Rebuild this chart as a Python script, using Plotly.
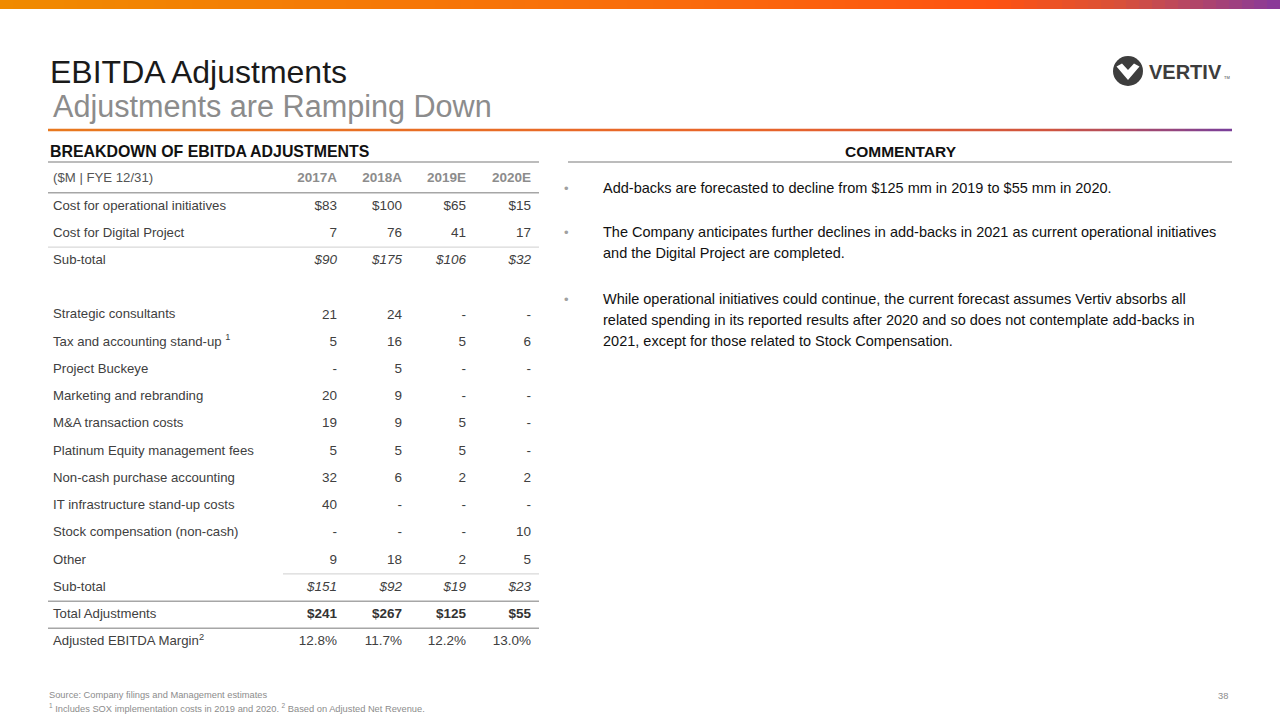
import plotly.graph_objects as go

# ---- data ----
years = ["2017A", "2018A", "2019E", "2020E"]

cost_operational = [83, 100, 65, 15]
cost_digital = [7, 76, 41, 17]
subtotal_projects = [90, 175, 106, 32]

strategic_consultants = [21, 24, None, None]
tax_accounting = [5, 16, 5, 6]
project_buckeye = [None, 5, None, None]
marketing_rebranding = [20, 9, None, None]
ma_transaction = [19, 9, 5, None]
platinum_fees = [5, 5, 5, None]
noncash_purchase = [32, 6, 2, 2]
it_infrastructure = [40, None, None, None]
stock_compensation = [None, None, None, 10]
other = [9, 18, 2, 5]
subtotal_other = [151, 92, 19, 23]

total_adjustments = [241, 267, 125, 55]
adj_ebitda_margin = [12.8, 11.7, 12.2, 13.0]

commentary = [
    ["Add-backs are forecasted to decline from $125 mm in 2019 to $55 mm in 2020."],
    ["The Company anticipates further declines in add-backs in 2021 as current operational initiatives",
     "and the Digital Project are completed."],
    ["While operational initiatives could continue, the current forecast assumes Vertiv absorbs all",
     "related spending in its reported results after 2020 and so does not contemplate add-backs in",
     "2021, except for those related to Stock Compensation."],
]

FONT = "Liberation Sans, Arial, sans-serif"
TXT = "#404040"
GREY = "#8c8c8c"


def fmt(vals, kind="plain"):
    out = []
    for v in vals:
        if v is None:
            out.append("-")
        elif kind == "dollar":
            out.append(f"${v}")
        elif kind == "italic":
            out.append(f"<i>${v}</i>")
        elif kind == "bold":
            out.append(f"<b>${v}</b>")
        elif kind == "pct":
            out.append(f"{v:.1f}%")
        else:
            out.append(str(v))
    return out


# (row index, label, formatted cells) - row 4 is an empty spacer
table = [
    (0, "($M | FYE 12/31)", [f"<b>{y}</b>" for y in years]),
    (1, "Cost for operational initiatives", fmt(cost_operational, "dollar")),
    (2, "Cost for Digital Project", fmt(cost_digital)),
    (3, "Sub-total", fmt(subtotal_projects, "italic")),
    (5, "Strategic consultants", fmt(strategic_consultants)),
    (6, "Tax and accounting stand-up <sup>1</sup>", fmt(tax_accounting)),
    (7, "Project Buckeye", fmt(project_buckeye)),
    (8, "Marketing and rebranding", fmt(marketing_rebranding)),
    (9, "M&A transaction costs", fmt(ma_transaction)),
    (10, "Platinum Equity management fees", fmt(platinum_fees)),
    (11, "Non-cash purchase accounting", fmt(noncash_purchase)),
    (12, "IT infrastructure stand-up costs", fmt(it_infrastructure)),
    (13, "Stock compensation (non-cash)", fmt(stock_compensation)),
    (14, "Other", fmt(other)),
    (15, "Sub-total", fmt(subtotal_other, "italic")),
    (16, "Total Adjustments", fmt(total_adjustments, "bold")),
    (17, "Adjusted EBITDA Margin<sup>2</sup>", fmt(adj_ebitda_margin, "pct")),
]
rows = [t[0] for t in table]

fig = go.Figure()

# gradient bands (top bar and title rule)
band = [list(range(100))]
fig.add_trace(go.Heatmap(z=band, xaxis="x3", yaxis="y3", showscale=False, hoverinfo="skip",
                         colorscale=[[0, "#f08a00"], [0.55, "#fa6a0c"], [0.78, "#fe5312"],
                                     [0.88, "#d8503a"], [1, "#8a3a98"]]))
fig.add_trace(go.Heatmap(z=band, xaxis="x4", yaxis="y4", showscale=False, hoverinfo="skip",
                         colorscale=[[0, "#e8781e"], [0.6, "#e8642a"], [0.85, "#d0543e"],
                                     [1, "#7b3f98"]]))

# table text
col_x = [53, 337, 402, 466, 531]
lab_colors = ["#555555" if r == 0 else TXT for r in rows]
fig.add_trace(go.Scatter(x=[col_x[0]] * len(rows), y=rows, mode="text",
                         text=[t[1] for t in table], textposition="middle right",
                         textfont=dict(family=FONT, size=13.2, color=lab_colors),
                         xaxis="x2", yaxis="y2", hoverinfo="skip"))
val_colors = [GREY if r == 0 else ("#333333" if r == 16 else TXT) for r in rows]
for j in range(4):
    fig.add_trace(go.Scatter(x=[col_x[j + 1]] * len(rows), y=rows, mode="text",
                             text=[t[2][j] for t in table], textposition="middle left",
                             textfont=dict(family=FONT, size=13.5, color=val_colors),
                             xaxis="x2", yaxis="y2", hoverinfo="skip"))

shapes = []
# separators between table rows
for r, x0, col, w in [(0.5, 48, "#a6a6a6", 1.5), (2.5, 48, "#d9d9d9", 1.2),
                      (14.5, 283, "#d9d9d9", 1.2), (15.5, 48, "#a6a6a6", 1.5),
                      (16.5, 48, "#a6a6a6", 1.5)]:
    shapes.append(dict(type="line", xref="x2", yref="y2", x0=x0, x1=539, y0=r, y1=r,
                       line=dict(color=col, width=w)))
# section rules
shapes.append(dict(type="line", xref="x", yref="y", x0=48, x1=539, y0=162, y1=162,
                   line=dict(color="#a6a6a6", width=1.5)))
shapes.append(dict(type="line", xref="x", yref="y", x0=568, x1=1232, y0=162, y1=162,
                   line=dict(color="#a6a6a6", width=1.5)))
# logo
shapes.append(dict(type="circle", xref="x", yref="y", x0=1113, x1=1143, y0=56, y1=86,
                   fillcolor="#3d3d3d", line=dict(width=0)))
shapes.append(dict(type="path", xref="x", yref="y",
                   path="M 1116.5,66.5 L 1128,80 L 1139.5,66.5 L 1134,63.5 L 1128,70 L 1122,63.5 Z",
                   fillcolor="white", line=dict(width=0)))

ann = []
ann.append(dict(x=48, y=72, text="EBITDA Adjustments", xanchor="left", yanchor="middle",
                font=dict(family=FONT, size=32, color="#1a1a1a")))
ann.append(dict(x=51, y=106, text="Adjustments are Ramping Down", xanchor="left",
                yanchor="middle", font=dict(family=FONT, size=30.6, color="#8c8c8c")))
ann.append(dict(x=1147, y=72, text="<b>VERTIV</b>", xanchor="left", yanchor="middle",
                font=dict(family=FONT, size=20, color="#3d3d3d")))
ann.append(dict(x=1222, y=77, text="TM", xanchor="left", yanchor="middle",
                font=dict(family=FONT, size=4, color="#3d3d3d")))
ann.append(dict(x=48, y=151, text="<b>BREAKDOWN OF EBITDA ADJUSTMENTS</b>", xanchor="left",
                yanchor="middle", font=dict(family=FONT, size=15.9, color="#111111")))
ann.append(dict(x=901, y=151, text="<b>COMMENTARY</b>", xanchor="center",
                yanchor="middle", font=dict(family=FONT, size=15.5, color="#111111")))

y_line = [188, 232, 299]
for para, y0 in zip(commentary, y_line):
    ann.append(dict(x=566, y=y0, text="•", xanchor="center", yanchor="middle",
                    font=dict(family=FONT, size=13, color="#a0a0a0")))
    for k, line in enumerate(para):
        ann.append(dict(x=601, y=y0 + 21 * k, text=line, xanchor="left", yanchor="middle",
                        font=dict(family=FONT, size=14.5, color="#111111")))

ann.append(dict(x=47, y=695, text="Source: Company filings and Management estimates",
                xanchor="left", yanchor="middle", font=dict(family=FONT, size=9.3, color=GREY)))
ann.append(dict(x=47, y=708,
                text="<sup>1</sup> Includes SOX implementation costs in 2019 and 2020. "
                     "<sup>2</sup> Based on Adjusted Net Revenue.",
                xanchor="left", yanchor="middle", font=dict(family=FONT, size=9.3, color=GREY)))
ann.append(dict(x=1230, y=696, text="38", xanchor="right", yanchor="middle",
                font=dict(family=FONT, size=9.3, color=GREY)))
for a in ann:
    a.update(xref="x", yref="y", showarrow=False)

hidden = dict(visible=False, fixedrange=True)
fig.update_layout(
    width=1280, height=720, margin=dict(l=0, r=0, t=0, b=0),
    paper_bgcolor="white", plot_bgcolor="white", showlegend=False,
    xaxis=dict(range=[0, 1280], domain=[0, 1], **hidden),
    yaxis=dict(range=[720, 0], domain=[0, 1], **hidden),
    xaxis2=dict(range=[0, 1280], domain=[0, 1], anchor="y2", **hidden),
    yaxis2=dict(range=[17.5, -0.5], domain=[1 - 655.6 / 720, 1 - 165.4 / 720], anchor="x2", **hidden),
    xaxis3=dict(domain=[0, 1], anchor="y3", **hidden),
    yaxis3=dict(domain=[1 - 9 / 720, 1], anchor="x3", **hidden),
    xaxis4=dict(domain=[48 / 1280, 1232 / 1280], anchor="y4", **hidden),
    yaxis4=dict(domain=[1 - 131.5 / 720, 1 - 128.5 / 720], anchor="x4", **hidden),
    shapes=shapes, annotations=ann,
)

fig.write_html("out.html", config={"displayModeBar": False},
               post_script="document.body.style.margin='0';")
